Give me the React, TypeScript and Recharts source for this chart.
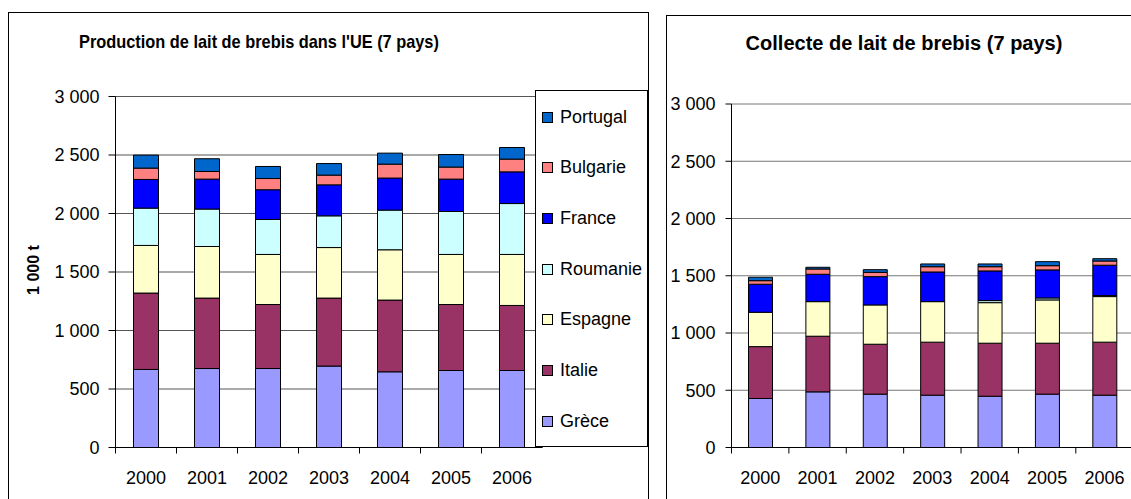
import React from 'react';
import { BarChart, Bar, XAxis, YAxis, CartesianGrid, Legend, Label } from 'recharts';

const years = ['2000', '2001', '2002', '2003', '2004', '2005', '2006'];
const countries = ['Grèce', 'Italie', 'Espagne', 'Roumanie', 'France', 'Bulgarie', 'Portugal'];
const countryColors = ['#9999FF', '#993366', '#FFFFCC', '#CCFFFF', '#0000FF', '#FF8080', '#0066CC'];
const yTicks = [0, 500, 1000, 1500, 2000, 2500, 3000];

// Production (1 000 t)
const prodGrece = [667, 675, 675, 696, 647, 658, 658];
const prodItalie = [653, 602, 547, 581, 613, 564, 556];
const prodEspagne = [407, 441, 428, 432, 430, 428, 436];
const prodRoumanie = [319, 320, 299, 271, 339, 367, 435];
const prodFrance = [245, 256, 254, 265, 274, 277, 271];
const prodBulgarie = [97, 65, 96, 83, 119, 103, 109];
const prodPortugal = [111, 109, 103, 99, 94, 107, 99];

// Collecte (1 000 t)
const collGrece = [428, 486, 466, 457, 448, 466, 457];
const collItalie = [453, 486, 436, 463, 463, 445, 463];
const collEspagne = [300, 302, 343, 354, 354, 378, 398];
const collRoumanie = [0, 0, 0, 0, 18, 17, 9];
const collFrance = [245, 239, 247, 259, 259, 245, 265];
const collBulgarie = [31, 46, 38, 46, 37, 37, 37];
const collPortugal = [30, 15, 23, 24, 24, 35, 20];

const toRows = (series: number[][]) =>
  years.map((year, i) => {
    const row: Record<string, string | number> = { year };
    countries.forEach((c, k) => {
      row[c] = series[k][i];
    });
    return row;
  });

const productionData = toRows([prodGrece, prodItalie, prodEspagne, prodRoumanie, prodFrance, prodBulgarie, prodPortugal]);
const collecteData = toRows([collGrece, collItalie, collEspagne, collRoumanie, collFrance, collBulgarie, collPortugal]);

const font = '"Liberation Sans", Arial, sans-serif';

const formatTick = (v: number) =>
  v >= 1000 ? `${Math.floor(v / 1000)} ${String(v % 1000).padStart(3, '0')}` : String(v);

// Excel style category axis: tick marks between categories, label in the middle
const makeYearTick = (band: number) => (props: any) => {
  const { x, y, payload } = props;
  return (
    <g>
      <line x1={x - band / 2} y1={y} x2={x - band / 2} y2={y + 6} stroke="#000" />
      <text x={x} y={y + 36} textAnchor="middle" fontSize={18} fontFamily={font} fill="#000">
        {payload.value}
      </text>
    </g>
  );
};

const UnitLabel = (props: any) => {
  const vb = props.viewBox ?? { x: 0, y: 0, width: 0, height: 0 };
  const cx = vb.x + 33;
  const cy = vb.y + vb.height / 2 - 2;
  return (
    <text
      x={cx}
      y={cy}
      transform={`rotate(-90, ${cx}, ${cy})`}
      textAnchor="middle"
      dominantBaseline="central"
      fontSize={16}
      fontWeight="bold"
      fontFamily={font}
      fill="#000"
    >
      1 000 t
    </text>
  );
};

// legend stacked like the bars: last series on top
const LegendBox = (props: any) => {
  const items = [...(props.payload ?? [])].sort(
    (a: any, b: any) => countries.indexOf(b.value) - countries.indexOf(a.value)
  );
  return (
    <div
      style={{
        width: 113,
        height: 357,
        boxSizing: 'border-box',
        border: '1px solid #000',
        background: '#fff',
        paddingTop: 1,
      }}
    >
      {items.map((item: any) => (
        <div key={item.value} style={{ height: 50.67, display: 'flex', alignItems: 'center' }}>
          <span
            style={{
              display: 'inline-block',
              width: 11,
              height: 11,
              boxSizing: 'border-box',
              border: '1px solid #000',
              background: countryColors[countries.indexOf(item.value)],
              marginLeft: 6.5,
              marginRight: 7,
            }}
          />
          <span style={{ fontSize: 18, fontFamily: font, color: '#000' }}>{item.value}</span>
        </div>
      ))}
    </div>
  );
};

const App: React.FC = () => {
  return (
    <div style={{ position: 'relative', width: 1131, height: 499, overflow: 'hidden', background: '#fff', fontFamily: font }}>
      <style>{'body{margin:0;overflow:hidden}'}</style>

      {/* panel frames */}
      <div style={{ position: 'absolute', left: 8, top: 12, width: 641, height: 540, boxSizing: 'border-box', border: '1px solid #000' }} />
      <div style={{ position: 'absolute', left: 666, top: 15, width: 520, height: 540, boxSizing: 'border-box', border: '1px solid #000' }} />

      {/* titles */}
      <div
        style={{
          position: 'absolute',
          left: 19,
          top: 31,
          width: 480,
          textAlign: 'center',
          fontWeight: 'bold',
          fontSize: 19,
          color: '#000',
          transform: 'scaleX(0.86)',
          transformOrigin: '240px 0',
        }}
      >
        Production de lait de brebis dans l'UE (7 pays)
      </div>
      <div style={{ position: 'absolute', left: 704, top: 32, width: 400, textAlign: 'center', fontWeight: 'bold', fontSize: 20, color: '#000' }}>
        Collecte de lait de brebis (7 pays)
      </div>

      {/* Left: production */}
      <div style={{ position: 'absolute', left: 0, top: 0 }}>
        <BarChart width={660} height={499} data={productionData} margin={{ top: 96.5, right: 117.5, bottom: 21.5, left: 0 }}>
          <CartesianGrid horizontal vertical={false} stroke="#555" />
          <XAxis
            dataKey="year"
            height={30}
            axisLine={{ stroke: '#000' }}
            tickLine={false}
            tickSize={0}
            tickMargin={0}
            interval={0}
            tick={makeYearTick(61)}
          />
          <YAxis
            width={115.5}
            domain={[0, 3000]}
            ticks={yTicks}
            interval={0}
            tickFormatter={formatTick}
            axisLine={{ stroke: '#000' }}
            tickLine={{ stroke: '#000' }}
            tickSize={7}
            tickMargin={9}
            tick={{ fontSize: 18, fill: '#000', fontFamily: font }}
          >
            <Label content={<UnitLabel />} />
          </YAxis>
          <Legend
            layout="vertical"
            align="center"
            verticalAlign="middle"
            width={113}
            height={357}
            wrapperStyle={{ left: 534.5, top: 90, width: 113, height: 357 }}
            content={<LegendBox />}
          />
          {countries.map((c, k) => (
            <Bar key={c} dataKey={c} name={c} stackId="a" fill={countryColors[k]} stroke="#000" strokeWidth={1} barSize={25} isAnimationActive={false} />
          ))}
        </BarChart>
      </div>

      {/* Right: collecte */}
      <div style={{ position: 'absolute', left: 660, top: 0 }}>
        <BarChart width={540} height={499} data={collecteData} margin={{ top: 104, right: 66.8, bottom: 21.5, left: 0 }}>
          <CartesianGrid horizontal vertical={false} stroke="#777" />
          <XAxis
            dataKey="year"
            height={30}
            axisLine={{ stroke: '#000' }}
            tickLine={false}
            tickSize={0}
            tickMargin={0}
            interval={0}
            tick={makeYearTick(57.4)}
          />
          <YAxis
            width={71.5}
            domain={[0, 3000]}
            ticks={yTicks}
            interval={0}
            tickFormatter={formatTick}
            axisLine={{ stroke: '#000' }}
            tickLine={{ stroke: '#000' }}
            tickSize={6}
            tickMargin={10}
            tick={{ fontSize: 18, fill: '#000', fontFamily: font }}
          />
          {countries.map((c, k) => (
            <Bar key={c} dataKey={c} name={c} stackId="a" fill={countryColors[k]} stroke="#000" strokeWidth={1} barSize={24} isAnimationActive={false} />
          ))}
        </BarChart>
      </div>
    </div>
  );
};

export default App;
